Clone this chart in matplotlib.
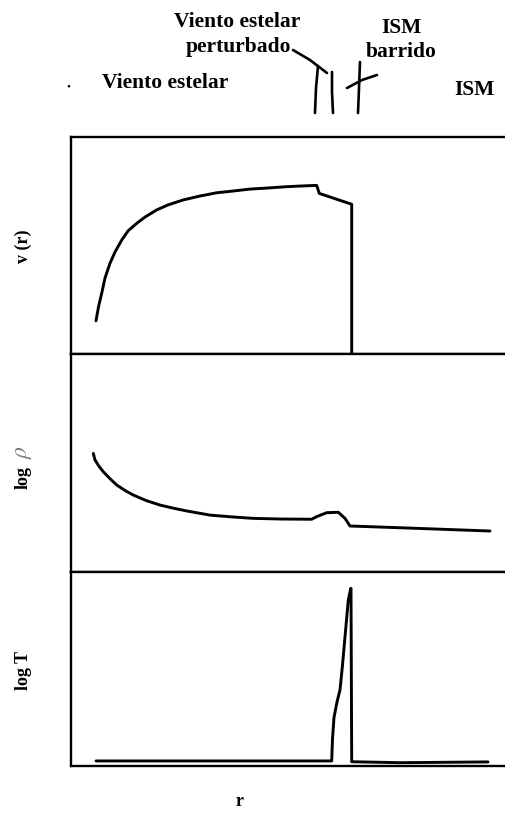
import matplotlib
matplotlib.use("Agg")
import matplotlib.pyplot as plt

plt.rcParams['font.family'] = ['Liberation Serif', 'DejaVu Serif']
plt.rcParams['mathtext.fontset'] = 'stix'

# radius in arbitrary units
r_v = [2.5, 2.75, 3.07, 3.4, 3.9, 4.4, 5.07, 5.7, 6.57, 7.4, 8.57, 9.7, 11.23, 12.9,
       14.57, 16.2, 17.9, 19.7, 21.57, 22.9, 24.57, 24.83, 28.07, 28.07]
v_vals = [1.53, 2.17, 2.80, 3.50, 4.18, 4.70, 5.25, 5.67, 6.02, 6.31, 6.64, 6.87, 7.10, 7.28,
          7.43, 7.51, 7.60, 7.65, 7.71, 7.74, 7.77, 7.40, 6.90, 0.0]

r_rho = [2.23, 2.4, 2.8, 3.23, 3.9, 4.57, 5.4, 6.23, 7.5, 8.9, 10.2, 11.57, 13.9, 16.0, 18.23,
         21.0, 24.07, 24.57, 25.57, 26.73, 27.4, 27.9, 32.9, 41.9]
logrho = [5.44, 5.14, 4.85, 4.60, 4.28, 3.99, 3.74, 3.53, 3.28, 3.07, 2.93, 2.80, 2.61, 2.53, 2.46,
          2.43, 2.42, 2.54, 2.72, 2.74, 2.46, 2.11, 2.03, 1.88]

r_T = [2.5, 26.07, 26.15, 26.3, 26.6, 26.9, 27.15, 27.4, 27.73, 27.95, 28.0, 28.07, 32.9, 41.7]
logT = [0.26, 0.26, 1.4, 2.5, 3.3, 3.92, 5.2, 6.66, 8.56, 9.1, 9.16, 0.22, 0.17, 0.21]

panel_labels = ["v (r)", "log", "log T"]

W, H = 505, 819
fig = plt.figure(figsize=(W / 100, H / 100), dpi=100)

left = 71 / W
width = 1.02 - left
edges = [137, 354, 572, 766]  # pixel rows of the panel borders

series = [(r_v, v_vals), (r_rho, logrho), (r_T, logT)]
axes = []
for i, (xs, ys) in enumerate(series):
    top, bot = edges[i], edges[i + 1]
    ax = fig.add_axes([left, 1 - bot / H, width, (bot - top) / H])
    ax.plot(xs, ys, color='black', lw=2.1, solid_joinstyle='round', solid_capstyle='round')
    ax.set_xlim(0, (W * 1.02 - 71) / 10)
    ax.set_ylim(0, 10)
    ax.set_xticks([])
    ax.set_yticks([])
    for s in ax.spines.values():
        s.set_linewidth(1.7)
    axes.append(ax)

# overlay in pixel coordinates for the labels and hand-drawn marks
ov = fig.add_axes([0, 0, 1, 1])
ov.set_xlim(0, W)
ov.set_ylim(H, 0)
ov.axis('off')

label_y = [246, 478, 670]
for lab, y in zip(panel_labels, label_y):
    ov.text(23, y, lab, rotation=90, ha='center', va='center', fontsize=13, fontweight='bold')
ov.text(24, 452, r"$\rho$", rotation=90, ha='center', va='center', fontsize=17, color='#808080')
ov.text(240, 802, "r", ha='center', va='center', fontsize=13, fontweight='bold')

tkw = dict(ha='center', va='center', fontsize=15.5, fontweight='bold')
ov.text(237, 22, "Viento estelar", **tkw)
ov.text(238, 47, "perturbado", **tkw)
ov.text(165, 83, "Viento estelar", **tkw)
ov.text(68, 87, "•", ha='center', va='center', fontsize=8)
ov.text(401, 28, "ISM", **tkw)
ov.text(401, 52, "barrido", **tkw)
ov.text(474, 90, "ISM", **tkw)

marks = [
    ([293, 310, 327], [50, 60, 73]),
    ([315, 316, 318], [113, 88, 66]),
    ([333, 332, 332], [113, 92, 72]),
    ([358, 359, 360], [113, 88, 62]),
    ([377, 362, 347], [75, 80, 88]),
]
for mx, my in marks:
    ov.plot(mx, my, color='black', lw=1.9, solid_capstyle='round')

fig.savefig("out.png", dpi=100)
